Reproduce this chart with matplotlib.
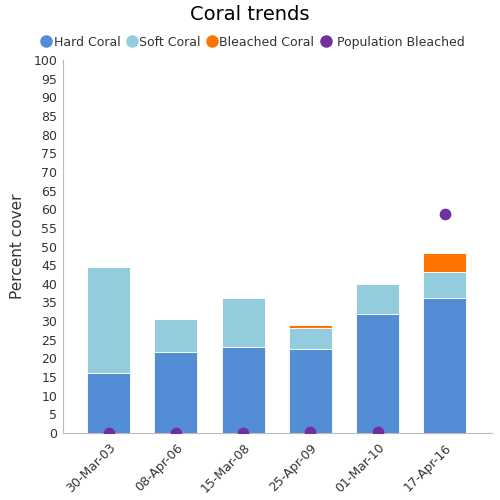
import numpy as np
import matplotlib
matplotlib.use("Agg")
import matplotlib.pyplot as plt
from matplotlib.lines import Line2D

dates = ["30-Mar-03", "08-Apr-06", "15-Mar-08", "25-Apr-09", "01-Mar-10", "17-Apr-16"]
hard = [16.1, 21.7, 23.1, 22.5, 31.9, 36.2]
soft = [28.4, 8.9, 13.1, 5.7, 8.1, 7.0]
bleached = [0.0, 0.0, 0.0, 0.7, 0.0, 5.1]
pop_bleached = [0.0, 0.0, 0.0, 0.3, 0.3, 58.8]

C_HARD = "#538dd5"; C_SOFT = "#93cddd"; C_BLEACH = "#ff7400"; C_POP = "#7030a0"
AXC = "#bbbbbb"; TXT = "#333333"

fig = plt.figure(figsize=(5, 5), dpi=100)
ax = fig.add_axes([0.126, 0.134, 0.858, 0.746])
x = np.arange(len(dates))
w = 0.64
hard = np.array(hard); soft = np.array(soft); bleached = np.array(bleached)
ax.bar(x, hard, w, color=C_HARD, edgecolor="white", lw=0.6, zorder=2)
ax.bar(x, soft, w, bottom=hard, color=C_SOFT, edgecolor="white", lw=0.6, zorder=2)
ax.bar(x, bleached, w, bottom=hard + soft, color=C_BLEACH, edgecolor="white", lw=0.6, zorder=2)
ax.scatter(x, pop_bleached, s=55, color=C_POP, zorder=4)

ax.set_xlim(-0.68, 5.7)
ax.set_ylim(0, 100)
ax.set_yticks(range(0, 101, 5))
ax.set_xticks(x)
ax.set_xticklabels(dates, rotation=45, ha="right", rotation_mode="anchor", fontsize=9, color=TXT)
ax.tick_params(axis="y", labelsize=9, colors=TXT, length=0, pad=4)
ax.tick_params(axis="x", length=0, pad=6)
for s in ("top", "right"):
    ax.spines[s].set_visible(False)
for s in ("left", "bottom"):
    ax.spines[s].set_color(AXC)
ax.set_ylabel("Percent cover", fontsize=11, color=TXT, labelpad=6, fontweight="medium")

fig.suptitle("Coral trends", fontsize=14, y=0.99)
names = ["Hard Coral", "Soft Coral", "Bleached Coral", " Population Bleached"]
cols = [C_HARD, C_SOFT, C_BLEACH, C_POP]
handles = [Line2D([], [], marker="o", ls="", ms=8, color=c) for c in cols]
ax.legend(handles, names, loc="lower center", bbox_to_anchor=(0.44, 1.0), ncol=4,
          frameon=False, fontsize=9, handletextpad=0.0, columnspacing=0.3,
          handlelength=1.2, labelcolor=TXT, borderaxespad=0.5)
fig.savefig("out.png", facecolor="white")
